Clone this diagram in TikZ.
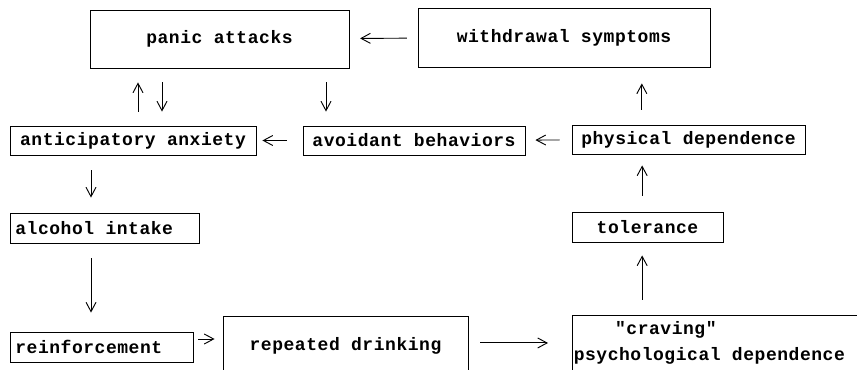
\documentclass[tikz,border=0pt]{standalone}
\usepackage{fontspec}
\newfontfamily\boxfont{Liberation Mono}[LetterSpace=3]
\usetikzlibrary{arrows.meta}

\begin{document}
\begin{tikzpicture}[x=0.75pt, y=-0.75pt,
    box/.style={draw, line width=0.65pt, inner sep=0pt,
      font=\boxfont\bfseries\fontsize{13.5}{19.5}\selectfont},
    arr/.style={->, line width=0.7pt},
    gaps/.style 2 args={shorten <=#1, shorten >=#2},
    >={Straight Barb[length=7pt,width=7.5pt]}]
    \clip (0,0) rectangle (857,370);
    \node[box, minimum width=194.25pt, minimum height=43.5pt] (pan) at (219.5,39) {panic attacks};
    \node[box, minimum width=219pt, minimum height=44.25pt] (wd) at (564,37.5) {withdrawal symptoms};
    \node[box, minimum width=184.5pt, minimum height=21.75pt] (anx) at (133,140.5) {anticipatory anxiety};
    \node[box, minimum width=166.5pt, minimum height=21.75pt] (avo) at (414,140.5) {avoidant behaviors};
    \node[box, minimum width=174.75pt, minimum height=21.75pt] (phys) at (688.5,139.5) {physical dependence};
    \node[box, minimum width=113.25pt, minimum height=22.5pt] (tol) at (647.5,227) {tolerance};
    \node[box, minimum height=22.5pt, align=flush left, inner xsep=4pt, text width=133.75pt] (alc) at (104.5,228) {alcohol intake};
    \node[box, minimum height=22.5pt, align=flush left, inner xsep=4pt, text width=129.25pt] (reinf) at (101.5,347) {reinforcement};
    \node[box, minimum width=183.75pt, minimum height=44.25pt] (rep) at (345.5,345.5) {repeated drinking};
    \node[box, anchor=north west, align=flush left, inner xsep=1pt, inner ysep=4.5pt,
      text width=228pt, text depth=50pt] (crav) at (572,315)
      {\hspace*{31pt}"craving"\\psychological dependence};
    \draw[arr, gaps={8pt}{8pt}] (wd) -- (pan);
    \draw[arr, gaps={10.5pt}{10.5pt}] ([xshift=3.75pt]anx.north) -- ([xshift=3.75pt]anx.north |- pan.south);
    \draw[arr, gaps={10.5pt}{10.5pt}] ([xshift=21.75pt]anx.north |- pan.south) -- ([xshift=21.75pt]anx.north);
    \draw[arr, gaps={10.5pt}{10.5pt}] ([xshift=-66pt]avo.north |- pan.south) -- ([xshift=-66pt]avo.north);
    \draw[arr, gaps={12pt}{4.5pt}] (avo) -- (anx);
    \draw[arr, gaps={9pt}{7.5pt}] (phys) -- (avo);
    \draw[arr, gaps={11.25pt}{12pt}] ([xshift=-35pt]phys.north) -- ([xshift=-35pt]phys.north |- wd.south);
    \draw[arr, gaps={12pt}{8.25pt}] ([xshift=-4pt]tol.north) -- ([xshift=-4pt]tol.north |- phys.south);
    \draw[arr, gaps={11.25pt}{9.75pt}] ([xshift=-4pt]tol.south |- crav.north) -- ([xshift=-4pt]tol.south);
    \draw[arr, gaps={11.25pt}{11.25pt}] ([xshift=-31.5pt]anx.south) -- ([xshift=-31.5pt]anx.south |- alc.north);
    \draw[arr, gaps={11.25pt}{14.25pt}] ([xshift=-10.1pt]alc.south) -- ([xshift=-10.1pt]alc.south |- reinf.north);
    \draw[arr, gaps={3.75pt}{6pt}] ([yshift=6pt]reinf.east) -- ([yshift=6pt]reinf.east -| rep.west);
    \draw[arr, gaps={9pt}{18pt}] ([yshift=1.9pt]rep.east) -- ([yshift=1.9pt]rep.east -| crav.west);
\end{tikzpicture}
\end{document}
